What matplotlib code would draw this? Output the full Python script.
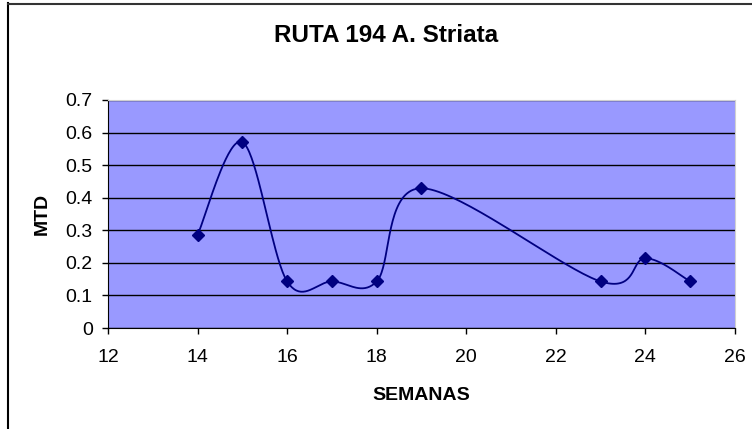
import numpy as np
import matplotlib.pyplot as plt
from matplotlib.lines import Line2D

plt.rcParams["font.family"] = ["Liberation Sans", "DejaVu Sans"]

# data
semanas = [14, 15, 16, 17, 18, 19, 23, 24, 25]
mtd = [0.286, 0.571, 0.143, 0.143, 0.143, 0.429, 0.143, 0.214, 0.143]
x_ticks = [12, 14, 16, 18, 20, 22, 24, 26]
y_ticks = [0, 0.1, 0.2, 0.3, 0.4, 0.5, 0.6, 0.7]
y_labels = ["0", "0.1", "0.2", "0.3", "0.4", "0.5", "0.6", "0.7"]

navy = "#000080"


def excel_smooth(ax, xs, ys, n=40):
    # Catmull-Rom style Bezier smoothing done in screen space (like Excel)
    pts = ax.transData.transform(np.column_stack([xs, ys]))
    out = []
    for i in range(len(pts) - 1):
        p0 = pts[max(i - 1, 0)]
        p1 = pts[i]
        p2 = pts[i + 1]
        p3 = pts[min(i + 2, len(pts) - 1)]
        c1 = p1 + (p2 - p0) / 6
        c2 = p2 - (p3 - p1) / 6
        t = np.linspace(0, 1, n)[:, None]
        seg = ((1 - t) ** 3) * p1 + 3 * ((1 - t) ** 2) * t * c1 \
            + 3 * (1 - t) * t ** 2 * c2 + t ** 3 * p2
        out.append(seg if i == 0 else seg[1:])
    out = np.vstack(out)
    return ax.transData.inverted().transform(out)


fig = plt.figure(figsize=(7.52, 4.29), dpi=100)
ax = fig.add_axes([0.1436, 0.2354, 0.8338, 0.5315])
ax.set_facecolor("#9999FF")
ax.set_xlim(12, 26)
ax.set_ylim(0, 0.7)
ax.set_xticks(x_ticks)
ax.set_yticks(y_ticks)
ax.set_yticklabels(y_labels)
ax.tick_params(axis="both", direction="out", length=4, width=1, color="black",
               labelsize=14)
ax.tick_params(axis="x", pad=11)
ax.tick_params(axis="y", pad=7)
ax.grid(axis="y", color="black", linewidth=1)
ax.set_axisbelow(True)
for s in ["top", "right"]:
    ax.spines[s].set_color("#D0D0D0")
for s in ["left", "bottom"]:
    ax.spines[s].set_color("black")

curve = excel_smooth(ax, semanas, mtd)
ax.plot(curve[:, 0], curve[:, 1], color=navy, linewidth=1.3, zorder=3)
ax.plot(semanas, mtd, linestyle="none", marker="D", markersize=6.5,
        color=navy, zorder=4)

ax.set_xlabel("SEMANAS", fontsize=14, fontweight="bold", va="center")
ax.xaxis.set_label_coords(0.499, -0.294)
ax.set_ylabel("MTD", fontsize=14, fontweight="bold", va="center")
ax.yaxis.set_label_coords(-0.105, 0.5)
fig.text(0.513, 0.918, "RUTA 194 A. Striata", fontsize=17.5,
         fontweight="bold", ha="center", va="center")

# chart frame (partly cut off in the original)
fig.add_artist(Line2D([7.5 / 752, 7.5 / 752], [0, 1 - 3 / 429],
                      transform=fig.transFigure, color="black", linewidth=1.5))
fig.add_artist(Line2D([7.5 / 752, 1], [1 - 3.5 / 429, 1 - 3.5 / 429],
                      transform=fig.transFigure, color="#333333", linewidth=1.5))

fig.savefig("out.png", dpi=100)
